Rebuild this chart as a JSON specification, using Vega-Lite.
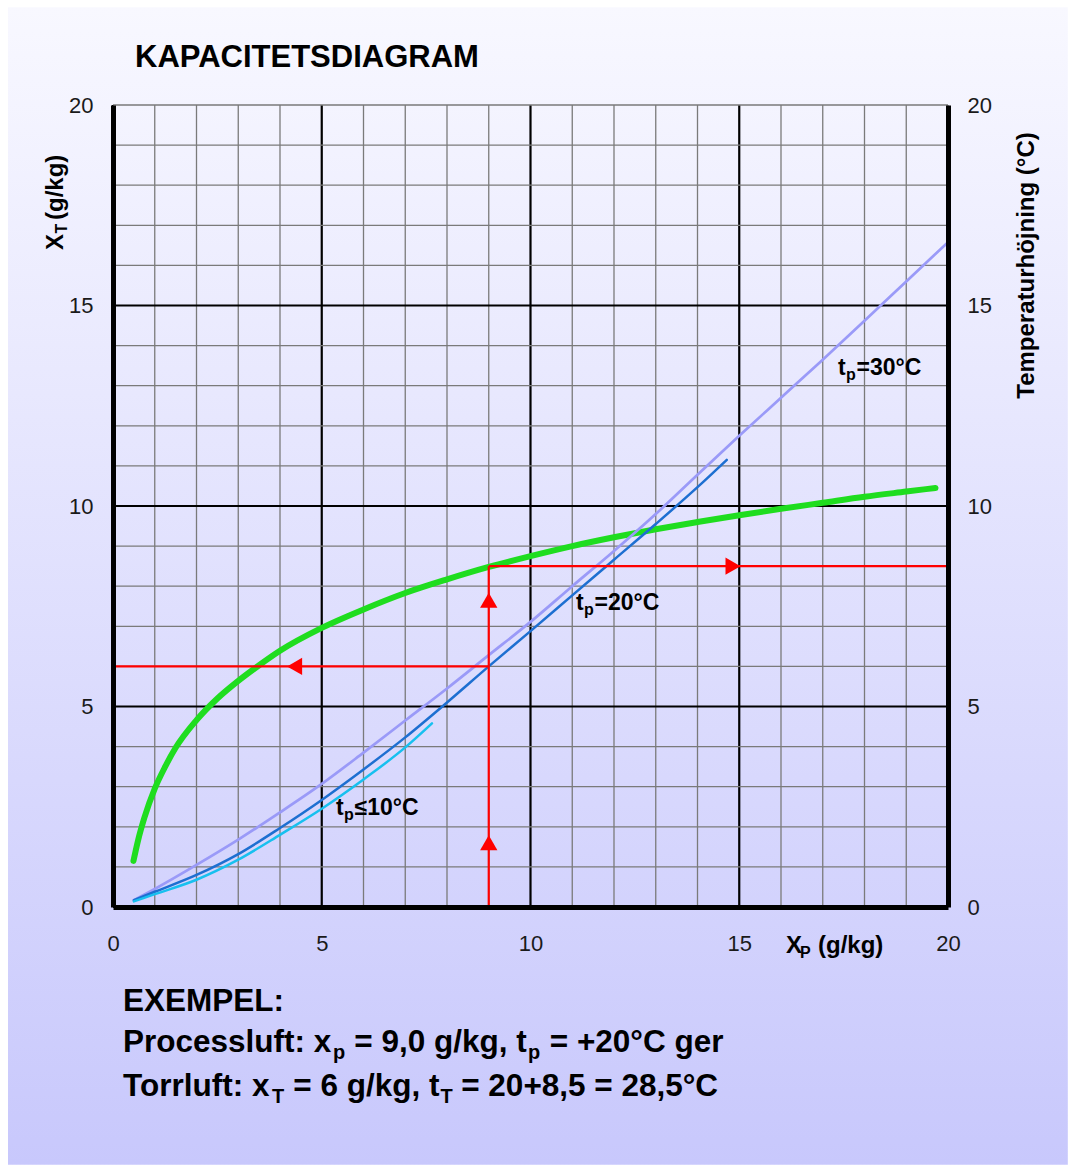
{
  "$schema": "https://vega.github.io/schema/vega-lite/v6.json",
  "width": 835,
  "height": 802,
  "autosize": {"type": "none"},
  "padding": {"left": 113, "top": 105, "right": 128, "bottom": 258},
  "background": "#ffffff",
  "config": {"view": {"stroke": null}, "font": "Liberation Sans"},
  "resolve": {"axis": {"x": "independent", "y": "independent"}},
  "datasets": {
    "grid": [
      {"v": 0}, {"v": 1}, {"v": 2}, {"v": 3}, {"v": 4}, {"v": 5}, {"v": 6},
      {"v": 7}, {"v": 8}, {"v": 9}, {"v": 10}, {"v": 11}, {"v": 12}, {"v": 13},
      {"v": 14}, {"v": 15}, {"v": 16}, {"v": 17}, {"v": 18}, {"v": 19}, {"v": 20}
    ],
    "curves": [
      {"series": "Temperaturhöjning", "xp": 0.49, "xt": 1.15},
      {"series": "Temperaturhöjning", "xp": 0.6, "xt": 1.66},
      {"series": "Temperaturhöjning", "xp": 0.75, "xt": 2.22},
      {"series": "Temperaturhöjning", "xp": 1, "xt": 2.95},
      {"series": "Temperaturhöjning", "xp": 1.25, "xt": 3.5},
      {"series": "Temperaturhöjning", "xp": 1.5, "xt": 3.97},
      {"series": "Temperaturhöjning", "xp": 2, "xt": 4.66},
      {"series": "Temperaturhöjning", "xp": 2.5, "xt": 5.2},
      {"series": "Temperaturhöjning", "xp": 3, "xt": 5.64},
      {"series": "Temperaturhöjning", "xp": 3.5, "xt": 6.03},
      {"series": "Temperaturhöjning", "xp": 4, "xt": 6.39},
      {"series": "Temperaturhöjning", "xp": 5, "xt": 6.96},
      {"series": "Temperaturhöjning", "xp": 6, "xt": 7.42},
      {"series": "Temperaturhöjning", "xp": 7, "xt": 7.83},
      {"series": "Temperaturhöjning", "xp": 8, "xt": 8.17},
      {"series": "Temperaturhöjning", "xp": 9, "xt": 8.48},
      {"series": "Temperaturhöjning", "xp": 10, "xt": 8.75},
      {"series": "Temperaturhöjning", "xp": 11, "xt": 9.0},
      {"series": "Temperaturhöjning", "xp": 12, "xt": 9.22},
      {"series": "Temperaturhöjning", "xp": 13, "xt": 9.42},
      {"series": "Temperaturhöjning", "xp": 14, "xt": 9.6},
      {"series": "Temperaturhöjning", "xp": 15, "xt": 9.77},
      {"series": "Temperaturhöjning", "xp": 16, "xt": 9.93},
      {"series": "Temperaturhöjning", "xp": 17, "xt": 10.08},
      {"series": "Temperaturhöjning", "xp": 18, "xt": 10.23},
      {"series": "Temperaturhöjning", "xp": 19, "xt": 10.36},
      {"series": "Temperaturhöjning", "xp": 19.7, "xt": 10.45},
      {"series": "tp=30°C", "xp": 0.5, "xt": 0.17},
      {"series": "tp=30°C", "xp": 1, "xt": 0.45},
      {"series": "tp=30°C", "xp": 2, "xt": 1.05},
      {"series": "tp=30°C", "xp": 3, "xt": 1.68},
      {"series": "tp=30°C", "xp": 4, "xt": 2.36},
      {"series": "tp=30°C", "xp": 5, "xt": 3.07},
      {"series": "tp=30°C", "xp": 6, "xt": 3.85},
      {"series": "tp=30°C", "xp": 7, "xt": 4.65},
      {"series": "tp=30°C", "xp": 8, "xt": 5.45},
      {"series": "tp=30°C", "xp": 9, "xt": 6.28},
      {"series": "tp=30°C", "xp": 10, "xt": 7.11},
      {"series": "tp=30°C", "xp": 11, "xt": 8.0},
      {"series": "tp=30°C", "xp": 12, "xt": 8.88},
      {"series": "tp=30°C", "xp": 13, "xt": 9.8},
      {"series": "tp=30°C", "xp": 14, "xt": 10.78},
      {"series": "tp=30°C", "xp": 15, "xt": 11.75},
      {"series": "tp=30°C", "xp": 16, "xt": 12.7},
      {"series": "tp=30°C", "xp": 17, "xt": 13.65},
      {"series": "tp=30°C", "xp": 18, "xt": 14.62},
      {"series": "tp=30°C", "xp": 19, "xt": 15.6},
      {"series": "tp=30°C", "xp": 20, "xt": 16.58},
      {"series": "tp=20°C", "xp": 0.5, "xt": 0.17},
      {"series": "tp=20°C", "xp": 1, "xt": 0.38},
      {"series": "tp=20°C", "xp": 2, "xt": 0.8},
      {"series": "tp=20°C", "xp": 3, "xt": 1.32},
      {"series": "tp=20°C", "xp": 4, "xt": 1.97},
      {"series": "tp=20°C", "xp": 5, "xt": 2.67},
      {"series": "tp=20°C", "xp": 6, "xt": 3.43},
      {"series": "tp=20°C", "xp": 7, "xt": 4.23},
      {"series": "tp=20°C", "xp": 8, "xt": 5.1},
      {"series": "tp=20°C", "xp": 9, "xt": 6.0},
      {"series": "tp=20°C", "xp": 10, "xt": 6.88},
      {"series": "tp=20°C", "xp": 11, "xt": 7.77},
      {"series": "tp=20°C", "xp": 12, "xt": 8.66},
      {"series": "tp=20°C", "xp": 13, "xt": 9.55},
      {"series": "tp=20°C", "xp": 14, "xt": 10.47},
      {"series": "tp=20°C", "xp": 14.7, "xt": 11.15},
      {"series": "tp≤10°C", "xp": 0.5, "xt": 0.14},
      {"series": "tp≤10°C", "xp": 1, "xt": 0.32},
      {"series": "tp≤10°C", "xp": 2, "xt": 0.68},
      {"series": "tp≤10°C", "xp": 3, "xt": 1.18},
      {"series": "tp≤10°C", "xp": 4, "xt": 1.8},
      {"series": "tp≤10°C", "xp": 5, "xt": 2.45},
      {"series": "tp≤10°C", "xp": 6, "xt": 3.18},
      {"series": "tp≤10°C", "xp": 7, "xt": 3.98},
      {"series": "tp≤10°C", "xp": 7.64, "xt": 4.58}
    ],
    "example": [
      {"x": 9, "y": 0, "x2": 9, "y2": 8.5},
      {"x": 9, "y": 8.5, "x2": 20, "y2": 8.5},
      {"x": 9, "y": 6, "x2": 0, "y2": 6}
    ],
    "arrows": [
      {"x": 9, "y": 1.6, "dir": "up"},
      {"x": 9, "y": 7.65, "dir": "up"},
      {"x": 14.85, "y": 8.5, "dir": "right"},
      {"x": 4.35, "y": 6, "dir": "left"}
    ],
    "texts": [
      {"t": "KAPACITETSDIAGRAM", "x": 0.527, "y": 20.95, "role": "title"},
      {"t": "t", "x": 17.365, "y": 13.267, "role": "label"},
      {"t": "p", "x": 17.557, "y": 13.142, "role": "sub"},
      {"t": "=30°C", "x": 17.808, "y": 13.267, "role": "label"},
      {"t": "t", "x": 11.09, "y": 7.406, "role": "label"},
      {"t": "p", "x": 11.281, "y": 7.282, "role": "sub"},
      {"t": "=20°C", "x": 11.533, "y": 7.406, "role": "label"},
      {"t": "t", "x": 5.341, "y": 2.294, "role": "label"},
      {"t": "p", "x": 5.533, "y": 2.17, "role": "sub"},
      {"t": "≤10°C", "x": 5.785, "y": 2.294, "role": "label"},
      {"t": "X", "x": 16.12, "y": -1.147, "role": "axtitle"},
      {"t": "P", "x": 16.455, "y": -1.272, "role": "sub"},
      {"t": "(g/kg)", "x": 16.886, "y": -1.147, "role": "axtitle"},
      {"t": "EXEMPEL:", "x": 0.24, "y": -2.594, "role": "body"},
      {"t": "Processluft: x", "x": 0.24, "y": -3.616, "role": "body"},
      {"t": "p", "x": 5.269, "y": -3.79, "role": "bodysub"},
      {"t": "= 9,0 g/kg, t", "x": 5.78, "y": -3.616, "role": "body"},
      {"t": "p", "x": 9.94, "y": -3.79, "role": "bodysub"},
      {"t": "= +20°C ger", "x": 10.461, "y": -3.616, "role": "body"},
      {"t": "Torrluft: x", "x": 0.24, "y": -4.713, "role": "body"},
      {"t": "T", "x": 3.808, "y": -4.888, "role": "bodysub"},
      {"t": "= 6 g/kg, t", "x": 4.32, "y": -4.713, "role": "body"},
      {"t": "T", "x": 7.844, "y": -4.888, "role": "bodysub"},
      {"t": "= 20+8,5 = 28,5°C", "x": 8.34, "y": -4.713, "role": "body"}
    ],
    "ytitle": [
      {"t": "X", "x": -1.198, "y": 16.384, "role": "axtitle"},
      {"t": "T", "x": -1.102, "y": 16.796, "role": "sub"},
      {"t": "(g/kg)", "x": -1.198, "y": 17.132, "role": "axtitle"}
    ]
  },
  "layer": [
    {
      "data": {"values": [{"panel": "bakgrund"}]},
      "mark": {
        "type": "rect",
        "fill": {
          "gradient": "linear",
          "x1": 0, "y1": 0, "x2": 0, "y2": 1,
          "stops": [
            {"offset": 0, "color": "#f8f8ff"},
            {"offset": 1, "color": "#c8c8fc"}
          ]
        }
      },
      "encoding": {
        "x": {"datum": -2.515, "type": "quantitative", "scale": {"domain": [0, 20], "nice": false, "zero": false}, "axis": null},
        "x2": {"datum": 22.87},
        "y": {"datum": 22.44, "type": "quantitative", "scale": {"domain": [0, 20], "nice": false, "zero": false}, "axis": null},
        "y2": {"datum": -6.43}
      }
    },
    {
      "data": {"name": "grid"},
      "mark": {"type": "rule"},
      "encoding": {
        "x": {
          "field": "v", "type": "quantitative",
          "scale": {"domain": [0, 20], "nice": false, "zero": false},
          "axis": {
            "orient": "bottom",
            "values": [0, 5, 10, 15, 20],
            "title": null,
            "grid": false,
            "ticks": false,
            "tickSize": 0,
            "domain": true,
            "domainColor": "#000000",
            "domainWidth": 5,
            "labelFont": "Liberation Sans",
            "labelFontSize": 22,
            "labelColor": "#1a1a1a",
            "labelPadding": 43,
            "labelBaseline": "alphabetic",
            "labelFlush": false,
            "labelOverlap": false,
            "zindex": 1
          }
        },
        "color": {"condition": {"test": "datum.v % 5 === 0 && datum.v < 20", "value": "#000000"}, "value": "#7a7a7a"},
        "strokeWidth": {"condition": {"test": "datum.v % 5 === 0 && datum.v < 20", "value": 2.2}, "value": 1.3}
      }
    },
    {
      "data": {"name": "grid"},
      "mark": {"type": "rule"},
      "encoding": {
        "y": {
          "field": "v", "type": "quantitative",
          "scale": {"domain": [0, 20], "nice": false, "zero": false},
          "axis": {
            "orient": "left",
            "values": [0, 5, 10, 15, 20],
            "title": null,
            "grid": false,
            "ticks": false,
            "tickSize": 0,
            "domain": true,
            "domainColor": "#000000",
            "domainWidth": 5,
            "labelFont": "Liberation Sans",
            "labelFontSize": 22,
            "labelColor": "#1a1a1a",
            "labelPadding": 20,
            "labelBaseline": "middle",
            "labelFlush": false,
            "labelOverlap": false,
            "zindex": 1
          }
        },
        "color": {"condition": {"test": "datum.v % 5 === 0 && datum.v < 20", "value": "#000000"}, "value": "#7a7a7a"},
        "strokeWidth": {"condition": {"test": "datum.v % 5 === 0 && datum.v < 20", "value": 2.2}, "value": 1.3}
      }
    },
    {
      "data": {"name": "curves"},
      "mark": {"type": "line", "interpolate": "monotone", "strokeCap": "round"},
      "encoding": {
        "x": {"field": "xp", "type": "quantitative", "scale": {"domain": [0, 20], "nice": false, "zero": false}, "axis": null},
        "y": {"field": "xt", "type": "quantitative", "scale": {"domain": [0, 20], "nice": false, "zero": false}, "axis": null},
        "color": {
          "field": "series", "type": "nominal",
          "scale": {"domain": ["Temperaturhöjning", "tp=30°C", "tp=20°C", "tp≤10°C"], "range": ["#1fdd1f", "#9a9af8", "#1d6fd1", "#17c0ef"]},
          "legend": null
        },
        "strokeWidth": {
          "field": "series", "type": "nominal",
          "scale": {"type": "ordinal", "domain": ["Temperaturhöjning", "tp=30°C", "tp=20°C", "tp≤10°C"], "range": [6, 2.7, 2.5, 2.5]},
          "legend": null
        },
        "order": {"field": "xp", "type": "quantitative"}
      }
    },
    {
      "data": {"name": "example"},
      "mark": {"type": "rule", "color": "#ff0000", "strokeWidth": 2.2},
      "encoding": {
        "x": {"field": "x", "type": "quantitative", "scale": {"domain": [0, 20], "nice": false, "zero": false}, "axis": null},
        "x2": {"field": "x2"},
        "y": {
          "field": "y", "type": "quantitative",
          "scale": {"domain": [0, 20], "nice": false, "zero": false},
          "axis": {
            "orient": "right",
            "values": [0, 5, 10, 15, 20],
            "grid": false,
            "ticks": false,
            "tickSize": 0,
            "domain": true,
            "domainColor": "#000000",
            "domainWidth": 5,
            "labelFont": "Liberation Sans",
            "labelFontSize": 22,
            "labelColor": "#1a1a1a",
            "labelPadding": 19,
            "labelBaseline": "middle",
            "labelFlush": false,
            "labelOverlap": false,
            "title": "Temperaturhöjning (°C)",
            "titleFont": "Liberation Sans",
            "titleFontWeight": "bold",
            "titleFontSize": 24,
            "titleColor": "#000000",
            "titleAngle": 270,
            "titleAlign": "center",
            "titleBaseline": "alphabetic",
            "titleX": 85,
            "titleY": 160,
            "zindex": 1
          }
        },
        "y2": {"field": "y2"}
      }
    },
    {
      "data": {"name": "arrows"},
      "mark": {"type": "point", "filled": true, "color": "#ff0000", "opacity": 1, "size": 300},
      "encoding": {
        "x": {"field": "x", "type": "quantitative", "scale": {"domain": [0, 20], "nice": false, "zero": false}, "axis": null},
        "y": {"field": "y", "type": "quantitative", "scale": {"domain": [0, 20], "nice": false, "zero": false}, "axis": null},
        "shape": {
          "field": "dir", "type": "nominal",
          "scale": {"domain": ["up", "right", "left"], "range": ["triangle-up", "triangle-right", "triangle-left"]},
          "legend": null
        }
      }
    },
    {
      "data": {"name": "texts"},
      "mark": {"type": "text", "align": "left", "baseline": "alphabetic", "font": "Liberation Sans", "fontWeight": "bold", "color": "#000000"},
      "encoding": {
        "x": {"field": "x", "type": "quantitative", "scale": {"domain": [0, 20], "nice": false, "zero": false}, "axis": null},
        "y": {"field": "y", "type": "quantitative", "scale": {"domain": [0, 20], "nice": false, "zero": false}, "axis": null},
        "text": {"field": "t"},
        "size": {
          "field": "role", "type": "nominal",
          "scale": {"type": "ordinal", "domain": ["title", "body", "bodysub", "label", "sub", "axtitle"], "range": [31, 31.5, 20, 23, 16, 24]},
          "legend": null
        }
      }
    },
    {
      "data": {"name": "ytitle"},
      "mark": {"type": "text", "align": "left", "baseline": "alphabetic", "angle": 270, "font": "Liberation Sans", "fontWeight": "bold", "color": "#000000"},
      "encoding": {
        "x": {"field": "x", "type": "quantitative", "scale": {"domain": [0, 20], "nice": false, "zero": false}, "axis": null},
        "y": {"field": "y", "type": "quantitative", "scale": {"domain": [0, 20], "nice": false, "zero": false}, "axis": null},
        "text": {"field": "t"},
        "size": {
          "field": "role", "type": "nominal",
          "scale": {"type": "ordinal", "domain": ["title", "body", "bodysub", "label", "sub", "axtitle"], "range": [31, 31.5, 20, 23, 16, 24]},
          "legend": null
        }
      }
    }
  ]
}
